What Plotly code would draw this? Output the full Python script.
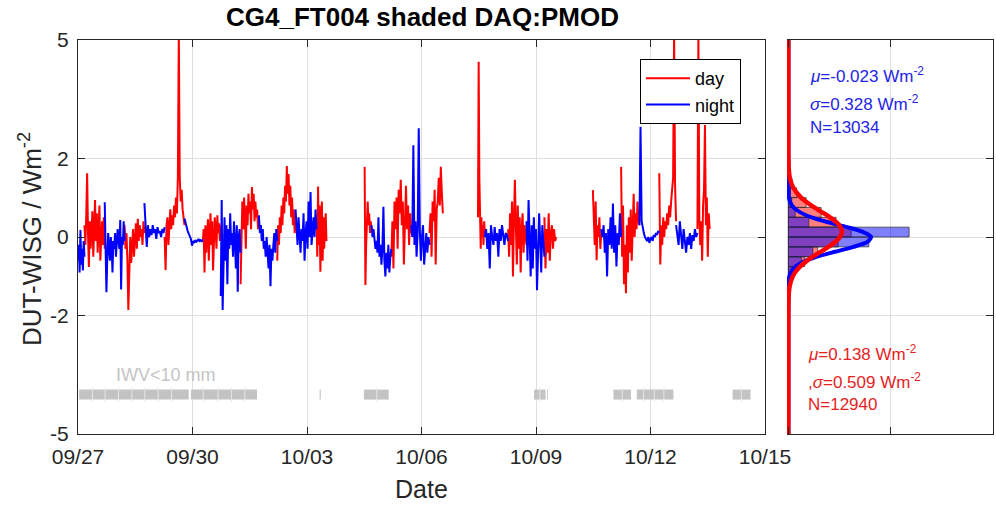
import numpy as np
import plotly.graph_objects as go

# ---------------- data ----------------
tick_days = [0, 3, 6, 9, 12, 15, 18]
tick_labels = ['09/27', '09/30', '10/03', '10/06', '10/09', '10/12', '10/15']
y_ticks = [-5, -2, 0, 2, 5]
y_tick_labels = ['-5', '-2', '0', '2', '5']

# day (red) segments: start day, end day (days since 09/27), values
day_t0 = [0.17, 1.22, 2.27, 3.27, 4.26, 5.22, 6.25, 7.51, 8.21, 9.21, 10.48, 11.27, 12.22, 13.49, 14.23, 15.23, 16.23]
day_t1 = [0.70, 1.74, 2.79, 3.74, 4.74, 5.70, 6.51, 7.69, 8.73, 9.56, 10.66, 11.75, 12.53, 13.71, 14.71, 15.67, 16.55]
day_vals = [
    [0.3, -0.2, 0.55, 1.62, 0.1, -0.76, 0.4, -0.3, 0.2, 0.65, -0.5, 0.3, 0.94, -0.1, 0.6, -0.4, 0.2, 0.8, -0.6, 0.1, 0.4, -0.2, 0.5, -0.3],
    [0.3, -0.3, 0.1, -0.6, -1.85, -0.4, 0.0, -0.66, -0.2, 0.2, -0.5, 0.1, 0.35, -0.3, 0.46, -0.1, 0.3, 0.0, 0.2, -0.2, 0.4, 0.1],
    [0.0, -0.84, 0.3, 0.5, -0.2, 0.4, 0.7, 0.2, 0.55, 0.3, 0.8, 0.5, 1.0, 0.6, 1.53, 5.2, 1.5, 0.9, 1.2, 0.7, 0.5, 0.3],
    [-0.1, 0.2, -0.9, 0.3, -0.4, 0.1, 0.45, -0.6, 0.2, 0.6, -0.2, 0.4, -0.85, 0.1, 0.5, 0.2, -0.3, 0.55, 0.1, 0.35, -0.1, 0.3],
    [-1.2, 0.4, 0.9, 0.2, 1.0, 0.5, -0.3, 0.8, 0.3, 1.1, 0.6, 0.9, 0.2, 1.27, 0.7, 1.1, 0.4, 0.9, 0.5, 0.7, 0.2, 0.4],
    [-0.6, 0.3, -0.2, 0.5, 0.1, 0.8, 0.3, 1.0, 0.6, 1.3, 0.9, 1.8, 1.1, 1.6, 0.8, 1.3, 0.5, 1.0, 0.3, 0.7, 0.1, 0.4],
    [0.4, -0.5, 1.28, -0.2, 0.8, -0.88, 0.3, 0.9, -0.6, 0.5, -0.3, 0.2, 0.6, -0.1],
    [1.78, -1.22, -0.2, 0.5, 0.9, 0.3, 0.6, 0.1, 0.4, 0.2],
    [-0.5, 0.4, -0.8, 0.9, 0.2, 1.0, -0.3, 1.2, 0.6, 1.45, 0.3, 0.9, -0.7, 0.5, 1.3, 0.2, 0.8, -0.2, 0.6, 0.1],
    [0.1, 0.6, -0.5, 0.9, 0.4, 1.2, -0.7, 0.7, 0.9, 1.5, 0.8, 1.78, 1.1, 0.6],
    [0.5, 4.45, 1.5, 0.2, -0.3, 0.5, 0.0, 0.3, -0.2, 0.4, 0.1],
    [0.2, -0.5, 0.6, -0.2, 0.9, -1.0, 0.4, 1.45, 0.3, -0.7, 0.8, -0.3, 0.5, -0.9, 0.2, 0.6, -0.4, 0.3, 0.0, -0.2],
    [0.5, -0.8, 0.2, -0.4, 0.6, -0.6, 0.1, 0.3, -0.3, 0.2, -0.1, 0.0],
    [1.19, 0.6, -0.2, 0.9, -0.59, 0.3, 0.0, 0.5, -0.3, 0.1],
    [1.78, -0.5, 0.8, -1.2, -0.2, -1.43, 0.3, -0.9, 0.5, -0.4, 0.7, -0.6, 0.2, 1.1, 0.0, 0.6, 0.2, 0.9, 0.4, 0.3],
    [1.62, -0.7, 0.3, -0.2, 0.5, 0.0, 0.4, 0.2, 0.6, 0.3, 0.8, 0.5, 0.9, 1.2, 1.5, 5.2, 1.3, 0.4],
    [0.2, 5.2, 0.5, -0.2, 0.4, -0.6, 0.8, 1.2, 2.84, 0.3, 1.0, -0.5, 0.6, 0.2],
]

# night (blue) segments
night_t0 = [0.0, 0.70, 1.74, 2.79, 3.74, 4.74, 5.70, 7.69, 8.73, 10.66, 11.75, 13.71, 14.71, 15.67]
night_t1 = [0.17, 1.22, 2.27, 3.27, 4.26, 5.22, 6.25, 8.21, 9.21, 11.27, 12.22, 14.23, 15.23, 16.23]
night_vals = [
    [-0.6, -0.2, -0.9, 0.18, -0.7, -0.3, -0.85, -0.1, -0.5],
    [0.88, -0.2, -1.4, -0.5, 0.1, -0.3, -0.6, 0.0, -0.2, -0.9, -0.1, -0.3, 0.1, -0.5, -0.2, 0.2, -0.1, -0.3, 0.43, -1.33, 0.0, -0.2, 0.4, -0.1],
    [0.86, 0.1, -0.25, 0.3, 0.0, 0.2, 0.05, 0.3, 0.1, 0.2, -0.05, 0.25, 0.1, 0.15, 0.0, 0.2, 0.1, 0.25],
    [0.47, 0.35, 0.25, 0.15, 0.08, 0.0, -0.05, -0.22, -0.1, -0.15, -0.08, -0.12, -0.1, -0.05, -0.1, -0.08, -0.12, -0.06],
    [-1.5, 0.94, -1.85, -0.4, 0.5, -0.6, 0.3, -1.2, 0.2, -0.3, 0.6, -0.2, 0.1, -0.5, 0.4, -0.1, -0.8, 0.3, -1.39, 0.0, 0.2, -0.4],
    [0.55, 0.1, 0.3, -0.1, 0.2, -0.3, -0.1, -0.5, 0.0, -0.4, -0.8, -0.2, -1.25, -0.3, -0.6, -0.2, 0.1, -0.4, 0.2, -0.1],
    [0.7, 0.3, -0.2, 0.5, 0.0, -0.4, 0.2, -0.1, 0.6, -0.6, 0.1, 0.4, -0.3, 0.9, 0.0, 1.14, -0.2, 0.3, 0.5, 0.0, 0.7, 0.2],
    [0.3, 0.0, 0.2, -0.1, -0.3, -0.1, -0.4, 0.5, -0.5, -0.2, -0.7, -0.3, 0.77, -0.6, -1.0, -0.4, -0.8, -0.2, -0.9, -0.5, -0.3],
    [0.3, 0.0, 2.33, -0.2, 0.4, -0.5, 0.1, 2.76, 0.2, -0.6, 0.0, 0.3, -0.7, -0.2, 0.1, -0.4, 0.0, -0.2],
    [0.0, 0.2, -0.3, 0.1, -0.8, 0.3, 0.0, -0.2, 0.25, -0.1, 0.1, -0.5, 0.2, -0.1, 0.3, 0.0, -0.2, 0.1, 0.05, -0.1],
    [0.4, -0.6, 0.94, -0.2, -1.0, 0.3, -0.8, 0.5, -0.3, 0.2, -1.35, -0.4, 0.6, -0.1, -0.9, 0.3, 0.0, -0.5],
    [0.2, 0.0, 0.3, -0.4, 0.1, -1.0, 0.2, -0.2, 0.5, -0.3, 0.85, -0.4, 0.3, -0.75, 0.1, -0.2, 0.6, 0.0],
    [0.3, 2.8, 0.4, 0.2, 0.1, 0.0, -0.05, -0.1, 0.0, -0.15, -0.05, 0.0, -0.1, 0.05, 0.0, 0.1, 0.05, 0.15, 0.1],
    [0.3, 0.1, -0.2, 0.4, 0.0, -0.3, 0.2, -0.1, -0.4, 0.0, -0.2, 0.1, -0.3, 0.05, -0.1, 0.2, 0.0, 0.1],
]

# IWV < 10 mm periods (days since 09/27) and separators inside them
iwv_start = [0.03, 2.96, 6.33, 7.49, 11.95, 12.29, 14.03, 14.64, 17.15]
iwv_end = [2.90, 4.69, 6.36, 8.14, 12.25, 12.31, 14.49, 15.60, 17.62]
iwv_sep = [0.38, 0.71, 1.06, 1.41, 1.75, 2.10, 2.45, 3.28, 3.67, 4.02, 4.37, 7.83, 12.10, 14.26, 14.82, 15.10, 15.35, 17.38]
iwv_level = -4.0

# histograms (pdf), bin width 0.25
bin_centers = [-1.125, -0.875, -0.625, -0.375, -0.125, 0.125, 0.375, 0.625, 0.875, 1.125, 1.375]
day_hist = [0.03, 0.07, 0.24, 0.43, 0.73, 0.92, 0.70, 0.48, 0.26, 0.12, 0.05]
night_hist = [0.02, 0.07, 0.19, 0.36, 1.18, 1.77, 0.30, 0.10, 0.05, 0.03, 0.01]

# fitted normal curves
curve_y = [-5, -2, -1.5, -1.25, -1.0, -0.875, -0.75, -0.625, -0.5, -0.375, -0.25, -0.125, 0, 0.125, 0.25,
           0.375, 0.5, 0.625, 0.75, 0.875, 1.0, 1.25, 1.5, 1.75, 2.0, 2.5, 5]
night_pdf = [0, 0, 0.0004, 0.0011, 0.0144, 0.042, 0.104, 0.226, 0.42, 0.683, 0.957, 1.159, 1.213, 1.098, 0.86,
             0.582, 0.34, 0.173, 0.076, 0.029, 0.009, 0.0005, 0, 0, 0, 0, 0]
day_pdf = [0, 0.0001, 0.0044, 0.019, 0.064, 0.108, 0.171, 0.255, 0.357, 0.472, 0.586, 0.686, 0.756, 0.784, 0.765,
           0.703, 0.609, 0.496, 0.380, 0.275, 0.187, 0.072, 0.0218, 0.0052, 0.001, 0, 0]

night_stats = ['<i>μ</i>=-0.023 Wm<sup>-2</sup>', '<i>σ</i>=0.328 Wm<sup>-2</sup>', 'N=13034']
day_stats = ['<i>μ</i>=0.138 Wm<sup>-2</sup>', ',<i>σ</i>=0.509 Wm<sup>-2</sup>', 'N=12940']

# ---------------- figure ----------------
W, H = 996, 510
FONT = 'Liberation Sans, Arial, Helvetica, sans-serif'
AX = '#262626'
GRID = '#dedede'
RED = '#ff0000'
BLUE = '#0000ff'


def build(t0s, t1s, vals):
    xs, ys = [], []
    for a, b, v in zip(t0s, t1s, vals):
        xs += list(np.linspace(a, b, len(v))) + [None]
        ys += list(v) + [None]
    return xs, ys


fig = go.Figure()

# IWV bars
ix, iy = [], []
for a, b in zip(iwv_start, iwv_end):
    ix += [a, b, None]
    iy += [iwv_level, iwv_level, None]
fig.add_trace(go.Scatter(x=ix, y=iy, mode='lines', line=dict(color='#c3c3c3', width=10),
                         showlegend=False, hoverinfo='skip', xaxis='x', yaxis='y'))
fig.add_trace(go.Scatter(x=iwv_sep, y=[iwv_level] * len(iwv_sep), mode='markers',
                         marker=dict(symbol='line-ns', size=10, line=dict(color='#e6e6e6', width=1)),
                         showlegend=False, hoverinfo='skip', xaxis='x', yaxis='y'))

dx, dy = build(day_t0, day_t1, day_vals)
nx, ny = build(night_t0, night_t1, night_vals)
fig.add_trace(go.Scatter(x=dx, y=dy, mode='lines', name='day', line=dict(color=RED, width=2),
                         connectgaps=False, xaxis='x', yaxis='y'))
fig.add_trace(go.Scatter(x=nx, y=ny, mode='lines', name='night', line=dict(color=BLUE, width=2),
                         connectgaps=False, xaxis='x', yaxis='y'))

# histograms
fig.add_trace(go.Bar(y=bin_centers, x=day_hist, orientation='h', width=0.25,
                     marker=dict(color='rgba(255,0,0,0.5)', line=dict(color='rgba(40,40,40,0.7)', width=1)),
                     showlegend=False, xaxis='x2', yaxis='y2'))
fig.add_trace(go.Bar(y=bin_centers, x=night_hist, orientation='h', width=0.25,
                     marker=dict(color='rgba(0,0,255,0.5)', line=dict(color='rgba(40,40,40,0.7)', width=1)),
                     showlegend=False, xaxis='x2', yaxis='y2'))
fig.add_trace(go.Scatter(x=night_pdf, y=curve_y, mode='lines', line=dict(color=BLUE, width=4, shape='spline', smoothing=0.6),
                         showlegend=False, xaxis='x2', yaxis='y2'))
fig.add_trace(go.Scatter(x=day_pdf, y=curve_y, mode='lines', line=dict(color=RED, width=4.5, shape='spline', smoothing=0.6),
                         showlegend=False, xaxis='x2', yaxis='y2'))

x0, x1 = 78 / W, 765 / W
hx0, hx1 = 787 / W, 993 / W
y0, y1 = 1 - 434 / H, 1 - 40 / H

common = dict(ticks='inside', ticklen=7, tickcolor=AX, showline=True, linecolor=AX, linewidth=1.2,
              showgrid=True, gridcolor=GRID, gridwidth=1, zeroline=False, automargin=False)

fig.update_layout(
    width=W, height=H,
    margin=dict(l=0, r=0, t=0, b=0, autoexpand=False),
    paper_bgcolor='white', plot_bgcolor='white',
    font=dict(family=FONT, color=AX),
    barmode='overlay',
    xaxis=dict(domain=[x0, x1], range=[0, 18], tickvals=tick_days, ticktext=tick_labels, mirror='ticks',
               tickfont=dict(size=21, color=AX), ticklabelstandoff=4, anchor='y', **common),
    yaxis=dict(domain=[y0, y1], range=[-5, 5], tickvals=y_ticks, ticktext=y_tick_labels, mirror='ticks',
               tickfont=dict(size=21, color=AX), ticklabelstandoff=4, anchor='x', **common),
    xaxis2=dict(domain=[hx0, hx1], range=[-0.02, 3], tickvals=[0, 1.5, 3], showticklabels=False,
                mirror='ticks', anchor='y2', **common),
    yaxis2=dict(domain=[y0, y1], range=[-5, 5], tickvals=y_ticks, showticklabels=False,
                side='right', mirror=False, anchor='x2', **common),
    legend=dict(x=640 / W, y=1 - 59 / H, xanchor='left', yanchor='top', bgcolor='white',
                bordercolor='#000000', borderwidth=1, font=dict(size=18, color='#000000'),
                tracegroupgap=0, itemwidth=44),
    showlegend=True,
)

ann = []
ann.append(dict(text='<b>CG4_FT004 shaded DAQ:PMOD</b>', x=422 / W, y=1 - 17 / H, xref='paper', yref='paper',
                showarrow=False, font=dict(size=26, color='#000000'), xanchor='center', yanchor='middle'))
ann.append(dict(text='Date', x=421 / W, y=1 - 489 / H, xref='paper', yref='paper', showarrow=False,
                font=dict(size=25, color=AX), xanchor='center', yanchor='middle'))
ann.append(dict(text='DUT-WISG / Wm<sup>-2</sup>', x=30 / W, y=1 - 239 / H, xref='paper', yref='paper',
                showarrow=False, textangle=-90, font=dict(size=26, color=AX), xanchor='center', yanchor='middle'))
ann.append(dict(text='IWV&lt;10 mm', x=2.30, y=-3.5, xref='x', yref='y', showarrow=False,
                font=dict(size=18, color='#c4c4c4'), xanchor='center', yanchor='middle'))
for txt, py in zip(night_stats, [75, 103, 127]):
    ann.append(dict(text=txt, x=808 / W, y=1 - py / H, xref='paper', yref='paper', showarrow=False,
                    font=dict(size=17, color='#2424e6'), xanchor='left', yanchor='middle'))
for txt, py in zip(day_stats, [353, 381, 404]):
    ann.append(dict(text=txt, x=806 / W, y=1 - py / H, xref='paper', yref='paper', showarrow=False,
                    font=dict(size=17, color='#e61e1e'), xanchor='left', yanchor='middle'))
fig.update_layout(annotations=ann)

fig.write_html('out.html')
